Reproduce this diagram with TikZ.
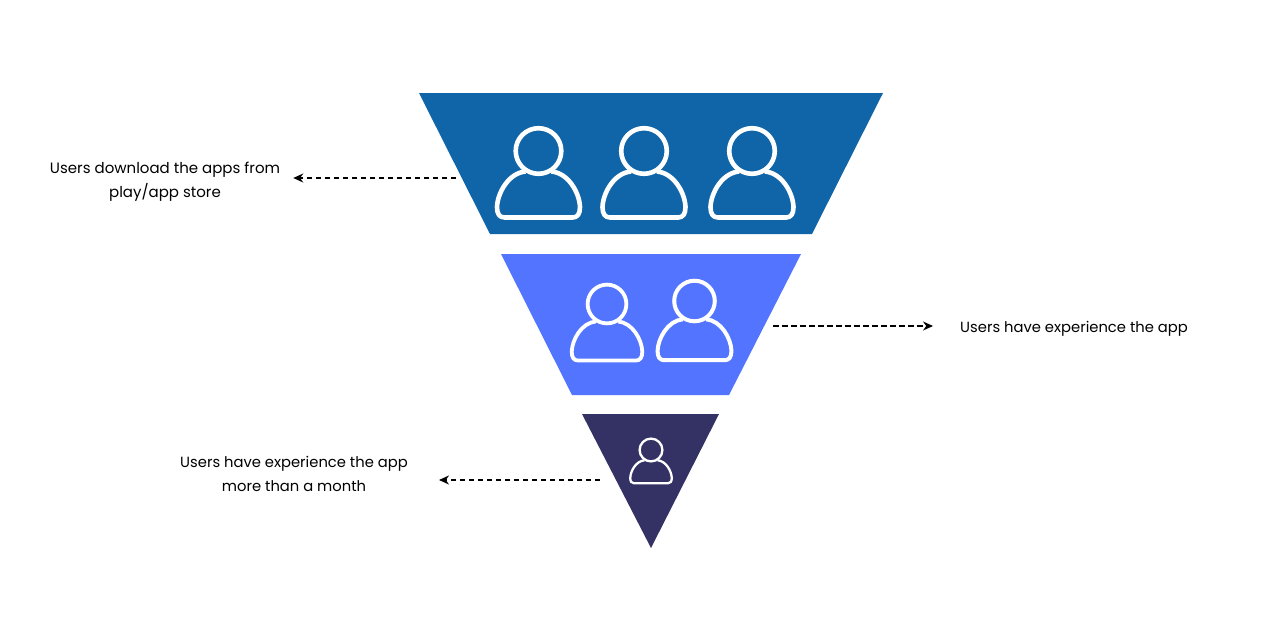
\documentclass[tikz,border=0pt]{standalone}
\usepackage{fontspec}
\setmainfont{Poppins}
\usetikzlibrary{arrows.meta}
\definecolor{topblue}{HTML}{0F65A8}
\definecolor{midblue}{HTML}{5274FF}
\definecolor{lowblue}{HTML}{343264}

\begin{document}
\begin{tikzpicture}[
   x = 1pt, y = -1pt,
   flow/.style = {draw=black, dash pattern=on 5.5pt off 3.5pt, line width=1.3pt,
                  -{Stealth[length=10pt,width=9pt]}},
   note/.style = {align=center, text=black, font=\fontsize{14.75}{24}\selectfont,
                  inner ysep=0pt},
   person/.pic = {
      \draw [white] (0,0) circle [radius=22.8];
      \draw [white, line join=round]
        (-13,20.5) .. controls (-30,22) and (-41,42) .. (-41.5,56)
        .. controls (-41.5,63) and (-39,66.5) .. (-34,66.5) -- (34,66.5)
        .. controls (39,66.5) and (41.5,63) .. (41.5,56)
        .. controls (41,42) and (30,22) .. (13,20.5);
   }
                    ]
  \useasboundingbox (0,0) rectangle (1280,640);
  \fill [white] (0,0) rectangle (1280,640);
  % funnel
  \fill [topblue] (419,93) -- (883,93) -- (812,234) -- (490,234) -- cycle;
  \fill [midblue] (501,254) -- (801,254) -- (729,395) -- (572,395) -- cycle;
  \fill [lowblue] (582,414) -- (719,414) -- (651,548) -- cycle;
  % users
  \pic [line width=4.6pt] at (538.5,151) {person};
  \pic [line width=4.6pt] at (644,151) {person};
  \pic [line width=4.6pt] at (752,151) {person};
  \pic [scale=.85, line width=3.8pt] at (607,304) {person};
  \pic [scale=.89, line width=4pt] at (694.5,301) {person};
  \pic [scale=.5, line width=2.3pt] at (651,450) {person};
  % labels
  \node (download) [note, font=\fontsize{15}{24}\selectfont, inner xsep=13pt] at (165,181.5)
        {Users download the apps from\\play/app store};
  \node (experience) [note, inner xsep=27pt] at (1074,329)
        {Users have experience the app};
  \node (month) [note, inner xsep=31pt] at (294,474)
        {Users have experience the app\\more than a month};
  \coordinate (fromtop) at (456,178);
  \coordinate (frommid) at (773,326);
  \coordinate (fromlow) at (600,480);
  \draw [flow] (fromtop) -- (fromtop -| download.east);
  \draw [flow] (frommid) -- (frommid -| experience.west);
  \draw [flow] (fromlow) -- (fromlow -| month.east);
\end{tikzpicture}
\end{document}
